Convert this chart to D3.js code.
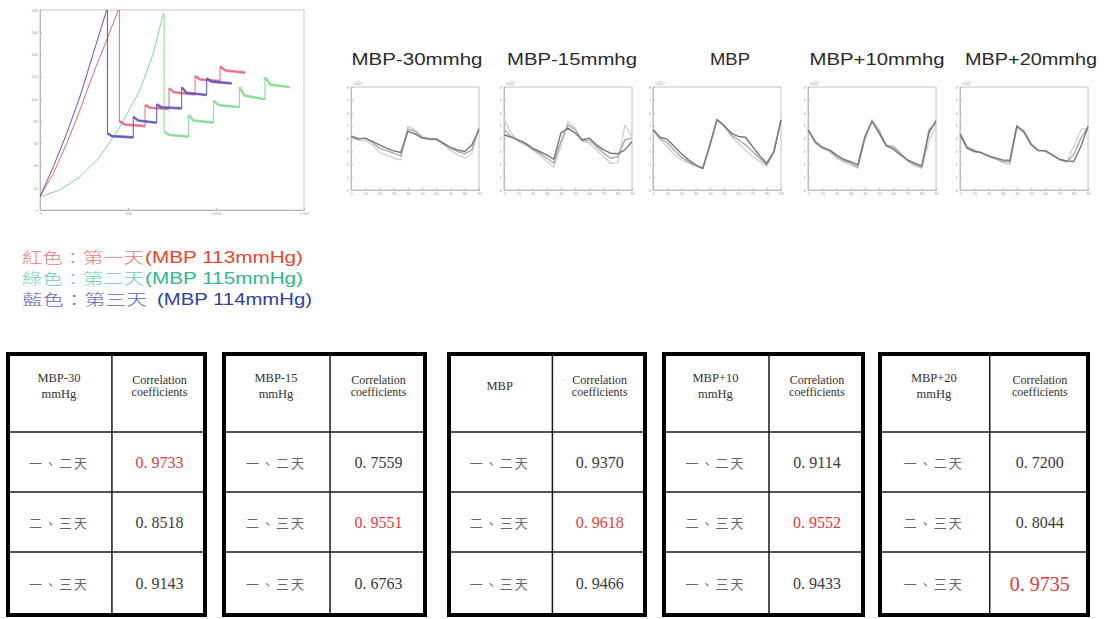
<!DOCTYPE html>
<html>
<head>
<meta charset="utf-8">
<script src="https://cdn.jsdelivr.net/npm/d3@7"></script>
<style>
  body { margin: 0; background: #fff; }
  svg { display: block; }
</style>
</head>
<body>
<svg id="fig" width="1106" height="619"></svg>
<script>
// ---------- data: overview pressure trace (x = sample, y = mmHg) ----------
const mainXTicks = [0, 500, 1000, 1500];
const mainYTicks = [0, 20, 40, 60, 80, 100, 120, 140, 160, 180];

const redRise = [[0, 12], [76, 33], [152, 60], [227, 90], [303, 123], [379, 153], [445, 180]];
const redSteps = [[451, 180], [451, 80], [480, 77], [597, 75.5],
  [597, 94.5], [625, 92], [733, 91], [733, 109.5], [762, 106], [881, 104],
  [881, 120.6], [910, 117.5], [1023, 116], [1023, 129], [1055, 125.5], [1165, 123.6]];

const blueRise = [[0, 12], [76, 39], [152, 69], [227, 102], [303, 141], [379, 180]];
const blueSteps = [[383, 180], [383, 69], [410, 66.5], [530, 65.4],
  [530, 84], [558, 80.5], [663, 78.6], [663, 95], [690, 92.5], [805, 91.5],
  [805, 110.4], [833, 105.5], [947, 103.5], [947, 118.5], [975, 115.5], [1089, 114]];

const greenRise = [[0, 12], [114, 18], [227, 30], [341, 48], [455, 75], [568, 108], [644, 141], [701, 177]];
const greenSteps = [[705, 177], [705, 70.5], [735, 67.5], [843, 66],
  [843, 85.5], [873, 80.5], [985, 78.6], [985, 98.4], [1015, 94.5], [1133, 92.4],
  [1133, 110.4], [1163, 103], [1278, 99.6], [1278, 119.4], [1308, 113], [1420, 110.4]];

// ---------- data: single beat overlays ----------
const beatTitles = ["MBP-30mmhg", "MBP-15mmhg", "MBP", "MBP+10mmhg", "MBP+20mmhg"];
const beatX = [0, 5, 10, 15, 20, 25, 30, 35, 40, 45, 50, 55, 60, 65, 70, 75, 80, 85, 90];
const beatTicksX = [0, 10, 20, 30, 40, 50, 60, 70, 80, 90];
const beatTicksY = [0, 1, 2, 3, 4, 5, 6, 7, 8];

const beatDark = [
  [4.16, 3.95, 4.03, 3.77, 3.51, 3.25, 3.04, 2.91, 4.55, 4.36, 4.03, 3.95, 3.95, 3.64, 3.30, 3.12, 2.99, 3.51, 4.68],
  [4.29, 4.10, 3.90, 3.64, 3.25, 2.99, 2.73, 2.39, 4.42, 4.81, 4.42, 3.90, 4.03, 3.51, 3.12, 2.86, 2.81, 3.12, 3.77],
  [4.68, 4.10, 3.95, 3.38, 2.81, 2.34, 1.95, 1.66, 3.51, 5.45, 4.99, 4.42, 4.16, 4.10, 3.38, 2.65, 2.08, 2.99, 5.45],
  [4.68, 3.77, 3.32, 3.12, 2.73, 2.39, 2.21, 1.95, 4.16, 5.32, 4.42, 3.43, 3.17, 2.73, 2.34, 2.08, 1.87, 4.42, 5.40],
  [4.29, 3.25, 2.99, 2.91, 2.65, 2.49, 2.34, 2.29, 4.99, 4.47, 3.51, 3.06, 3.06, 2.73, 2.39, 2.26, 2.21, 3.38, 4.94]
];
const beatMid = [
  [4.21, 4.03, 4.00, 3.69, 3.25, 3.06, 2.86, 2.65, 4.73, 4.55, 4.10, 4.00, 3.97, 3.58, 3.25, 2.99, 2.81, 3.12, 4.81],
  [4.68, 4.16, 3.84, 3.58, 3.17, 2.86, 2.47, 2.08, 3.77, 5.06, 4.68, 3.84, 3.84, 3.38, 2.86, 2.47, 2.60, 3.90, 4.03],
  [4.68, 4.00, 3.69, 3.06, 2.55, 2.18, 1.90, 1.69, 3.43, 5.48, 5.01, 4.29, 3.90, 3.51, 2.99, 2.44, 1.95, 2.91, 5.45],
  [4.68, 3.69, 3.27, 3.06, 2.60, 2.29, 2.08, 1.77, 4.03, 5.40, 4.55, 3.48, 3.38, 2.86, 2.29, 1.97, 1.77, 4.68, 5.19],
  [4.42, 3.32, 3.06, 2.88, 2.62, 2.44, 2.23, 2.13, 4.94, 4.55, 3.58, 3.06, 3.04, 2.70, 2.36, 2.21, 2.73, 4.03, 4.88]
];
const beatLight = [
  [4.10, 3.84, 3.84, 3.51, 2.91, 2.73, 2.47, 2.34, 4.94, 4.68, 4.16, 3.90, 3.90, 3.51, 3.06, 2.73, 2.47, 2.86, 4.94],
  [5.51, 4.42, 3.77, 3.51, 3.12, 2.73, 2.21, 1.77, 3.38, 5.32, 4.81, 3.77, 3.64, 3.12, 2.60, 2.08, 2.13, 5.06, 4.16],
  [4.81, 3.90, 3.38, 2.73, 2.34, 2.08, 1.87, 1.77, 3.51, 5.51, 4.94, 4.16, 3.64, 3.12, 2.60, 2.21, 1.87, 2.99, 5.40],
  [4.81, 3.64, 3.25, 2.99, 2.47, 2.21, 1.95, 1.69, 3.90, 5.45, 4.68, 3.51, 3.25, 2.86, 2.21, 1.87, 1.69, 3.77, 4.94],
  [4.55, 3.38, 3.12, 2.86, 2.60, 2.39, 2.13, 1.95, 4.81, 4.68, 3.64, 3.12, 2.99, 2.65, 2.34, 2.13, 3.38, 4.68, 4.81]
];

// ---------- data: legend ----------
const legendDays = ["紅色：第一天", "綠色：第二天", "藍色：第三天"];
const legendMBP = ["(MBP 113mmHg)", "(MBP 115mmHg)", "(MBP 114mmHg)"];

// ---------- data: correlation tables ----------
const tableHeads = [["MBP-30", "mmHg"], ["MBP-15", "mmHg"], ["MBP"], ["MBP+10", "mmHg"], ["MBP+20", "mmHg"]];
const corrHead = ["Correlation", "coefficients"];
const pairLabels = ["一、二天", "二、三天", "一、三天"];
const corrValues = [
  [0.9733, 0.8518, 0.9143],
  [0.7559, 0.9551, 0.6763],
  [0.9370, 0.9618, 0.9466],
  [0.9114, 0.9552, 0.9433],
  [0.7200, 0.8044, 0.9735]
];

// ---------- layout ----------
const svg = d3.select("#fig");
const sans = "'Liberation Sans', Arial, sans-serif";
const serif = "'Liberation Serif', 'Times New Roman', serif";
const cjk = "'Noto Sans CJK TC', 'Noto Sans CJK SC', sans-serif";

// ===== overview chart =====
const x = d3.scaleLinear().domain([0, 1500]).range([40, 304]);
const y = d3.scaleLinear().domain([0, 180]).range([210, 10]);

svg.append("defs").append("clipPath").attr("id", "mainClip")
  .append("rect").attr("x", 40).attr("y", 10).attr("width", 264).attr("height", 200);

const gMain = svg.append("g");
gMain.append("rect").attr("x", 40).attr("y", 10).attr("width", 264).attr("height", 200)
  .attr("fill", "none").attr("stroke", "#c8c8c8");

const yAx = gMain.append("g").attr("transform", "translate(40,0)")
  .call(d3.axisLeft(y).tickValues(mainYTicks).tickSize(-2).tickPadding(2));
const xAx = gMain.append("g").attr("transform", "translate(0,210)")
  .call(d3.axisBottom(x).tickValues(mainXTicks).tickSize(-2).tickPadding(2));
[yAx, xAx].forEach(a => {
  a.attr("font-size", 4).attr("font-family", sans);
  a.selectAll("path,line").attr("stroke", "#b8b8b8");
  a.selectAll("text").attr("fill", "#999");
});

const line = d3.line().x(d => x(d[0])).y(d => y(d[1]));
const gTr = gMain.append("g").attr("clip-path", "url(#mainClip)");

const traces = [
  { rise: greenRise, steps: greenSteps, color: "#82dc92" },
  { rise: redRise, steps: redSteps, color: "#e26a80" },
  { rise: blueRise, steps: blueSteps, color: "#5d55b6" }
];
traces.forEach(t => {
  gTr.append("path").datum(t.rise.concat(t.steps)).attr("d", line)
    .attr("fill", "none").attr("stroke", t.color).attr("stroke-width", 1);
  // plateaus are drawn thicker (pulsatile band)
  const groups = [];
  t.steps.forEach((p, i) => {
    if (i === 0 || p[0] === t.steps[i - 1][0]) groups.push([p]);
    else groups[groups.length - 1].push(p);
  });
  groups.filter(g => g.length > 1).forEach(g => {
    gTr.append("path").datum(g).attr("d", line)
      .attr("fill", "none").attr("stroke", t.color).attr("stroke-width", 2.6)
      .attr("stroke-opacity", 0.8);
  });
});

// ===== beat overlay panels =====
const panelLeft = [351, 504, 653, 808, 960];
const titleX = [417, 572, 730, 877, 1031];
const titleLen = [131, 130, 40, 135, 132];
const pw = 128, ph = 103, pTop = 87;
const sx = d3.scaleLinear().domain([0, 90]).range([0, pw]);
const sy = d3.scaleLinear().domain([0, 8]).range([ph, 0]);
const sline = d3.line().x((d, i) => sx(beatX[i])).y(d => sy(d));

beatTitles.forEach((t, k) => {
  svg.append("text").attr("x", titleX[k]).attr("y", 65)
    .attr("text-anchor", "middle").attr("font-family", sans).attr("font-size", 17)
    .attr("fill", "#2a2a2a")
    .attr("textLength", titleLen[k]).attr("lengthAdjust", "spacingAndGlyphs")
    .text(t);

  const g = svg.append("g").attr("transform", `translate(${panelLeft[k]},${pTop})`);
  g.append("rect").attr("width", pw).attr("height", ph)
    .attr("fill", "none").attr("stroke", "#c4c4c4");
  const ay = g.append("g").call(d3.axisLeft(sy).tickValues(beatTicksY).tickSize(-2).tickPadding(2));
  const ax = g.append("g").attr("transform", `translate(0,${ph})`)
    .call(d3.axisBottom(sx).tickValues(beatTicksX).tickSize(-2).tickPadding(2));
  [ay, ax].forEach(a => {
    a.attr("font-size", 4).attr("font-family", sans);
    a.selectAll("path,line").attr("stroke", "#bdbdbd");
    a.selectAll("text").attr("fill", "#a0a0a0");
  });
  g.append("text").attr("x", 2).attr("y", -2).attr("font-size", 5)
    .attr("font-family", sans).attr("fill", "#aaa").text("x10⁴");

  [[beatLight[k], "#d2d2d2"], [beatMid[k], "#ababab"], [beatDark[k], "#777"]].forEach(([vals, c]) => {
    g.append("path").datum(vals).attr("d", sline)
      .attr("fill", "none").attr("stroke", c).attr("stroke-width", 1.4)
      .attr("stroke-linejoin", "round");
  });
});

// ===== legend =====
const legendColors = [["#ec7a7a", "#e8452e"], ["#6fcfae", "#2fb98c"], ["#5b68c6", "#2f3fa0"]];
const dayLen = [122, 122, 125];
const mbpX = [145, 145, 157];
const mbpLen = [158, 158, 155];
legendDays.forEach((d, i) => {
  const by = 263 + i * 21;
  svg.append("text").attr("x", 22).attr("y", by)
    .attr("font-size", 14.4).attr("font-family", cjk).attr("font-weight", 300)
    .attr("fill", legendColors[i][0])
    .attr("textLength", dayLen[i]).attr("lengthAdjust", "spacingAndGlyphs").text(d);
  svg.append("text").attr("x", mbpX[i]).attr("y", by)
    .attr("font-size", 17).attr("font-family", sans)
    .attr("fill", legendColors[i][1])
    .attr("textLength", mbpLen[i]).attr("lengthAdjust", "spacingAndGlyphs").text(legendMBP[i]);
});

// ===== correlation tables =====
const tableLeft = [6, 222, 447, 662, 878];
const tableRight = [207, 427, 647, 865, 1090];
const rowEdges = [354, 432, 492, 552, 615];
const fmt = v => d3.format(".4f")(v).replace(".", ". ");

tableHeads.forEach((head, k) => {
  const L = tableLeft[k], R = tableRight[k];
  const div = L + (R - L) * 0.527;
  const g = svg.append("g");
  const best = d3.maxIndex(corrValues[k]);

  // inner grid
  rowEdges.slice(1, 4).forEach(ry => {
    g.append("line").attr("x1", L).attr("x2", R).attr("y1", ry).attr("y2", ry)
      .attr("stroke", "#1a1a1a").attr("stroke-width", 1.5);
  });
  g.append("line").attr("x1", div).attr("x2", div).attr("y1", 352).attr("y2", 617)
    .attr("stroke", "#1a1a1a").attr("stroke-width", 1.5);
  g.append("rect").attr("x", L + 2).attr("y", 354).attr("width", R - L - 4).attr("height", 261)
    .attr("fill", "none").attr("stroke", "#000").attr("stroke-width", 4);

  const c1 = (L + div) / 2, c2 = (div + R) / 2;
  const hMid = 386;
  head.forEach((s, i) => {
    g.append("text").attr("x", c1).attr("y", hMid + (i - (head.length - 1) / 2) * 16)
      .attr("text-anchor", "middle").attr("dominant-baseline", "central")
      .attr("font-family", serif).attr("font-size", 12.5).attr("fill", "#333").text(s);
  });
  corrHead.forEach((s, i) => {
    g.append("text").attr("x", c2).attr("y", hMid - 6 + i * 12)
      .attr("text-anchor", "middle").attr("dominant-baseline", "central")
      .attr("font-family", serif).attr("font-size", 12).attr("fill", "#333").text(s);
  });

  pairLabels.forEach((p, r) => {
    const cy = (rowEdges[r + 1] + rowEdges[r + 2]) / 2;
    g.append("text").attr("x", c1).attr("y", cy)
      .attr("text-anchor", "middle").attr("dominant-baseline", "central")
      .attr("font-family", cjk).attr("font-size", 13).attr("letter-spacing", 2)
      .attr("fill", "#666").text(p);
    const hi = r === best;
    g.append("text").attr("x", c2).attr("y", cy)
      .attr("text-anchor", "middle").attr("dominant-baseline", "central")
      .attr("font-family", serif).attr("font-size", hi && k === 4 ? 20 : 16)
      .attr("fill", hi ? "#e53a3a" : "#3a3a3a").text(fmt(corrValues[k][r]));
  });
});
</script>
</body>
</html>
